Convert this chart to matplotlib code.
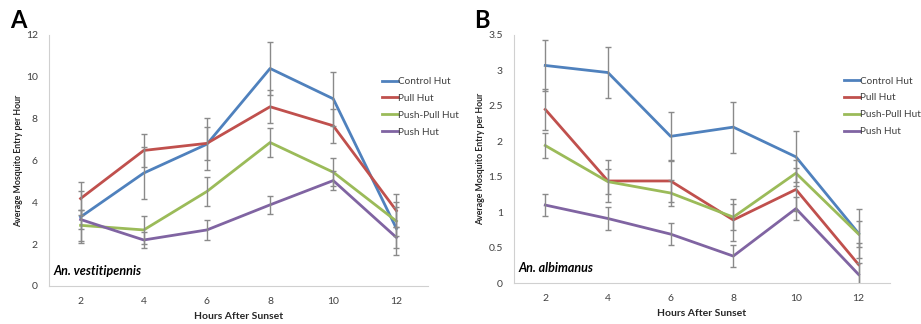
import matplotlib.pyplot as plt
import numpy as np

plt.rcParams['font.family'] = ['Lato', 'DejaVu Sans']

hours = [2, 4, 6, 8, 10, 12]
series = ["Control Hut", "Pull Hut", "Push-Pull Hut", "Push Hut"]
colors = ["#4F81BD", "#C0504D", "#9BBB59", "#8064A2"]

# panel A - An. vestitipennis
a_control = [3.3, 5.4, 6.78, 10.4, 8.95, 2.75]
a_pull = [4.18, 6.48, 6.82, 8.57, 7.66, 3.6]
a_pushpull = [2.9, 2.68, 4.52, 6.86, 5.44, 3.1]
a_push = [3.18, 2.2, 2.68, 3.88, 5.04, 2.32]
a_control_err = [1.25, 1.25, 1.25, 1.25, 1.28, 1.25]
a_pull_err = [0.8, 0.8, 0.8, 0.8, 0.8, 0.8]
a_pushpull_err = [0.75, 0.66, 0.68, 0.69, 0.66, 0.7]
a_push_err = [0.45, 0.36, 0.46, 0.44, 0.45, 0.5]

# panel B - An. albimanus
b_control = [3.07, 2.97, 2.07, 2.2, 1.78, 0.7]
b_pull = [2.45, 1.44, 1.44, 0.89, 1.32, 0.26]
b_pushpull = [1.94, 1.43, 1.27, 0.93, 1.55, 0.69]
b_push = [1.1, 0.91, 0.69, 0.38, 1.05, 0.12]
b_control_err = [0.36, 0.36, 0.35, 0.36, 0.36, 0.35]
b_pull_err = [0.29, 0.3, 0.29, 0.3, 0.3, 0.3]
b_pushpull_err = [0.18, 0.18, 0.18, 0.18, 0.18, 0.18]
b_push_err = [0.16, 0.16, 0.16, 0.16, 0.16, 0.16]

fig = plt.figure(figsize=(9.21, 3.24), dpi=100)
axA = fig.add_axes([0.0532, 0.1173, 0.4115, 0.7747])
axB = fig.add_axes([0.558, 0.1265, 0.4083, 0.7655])


def draw(ax, vals, errs, ymax, ystep, species):
    for v, e, c, name in zip(vals, errs, colors, series):
        ax.plot(hours, v, color=c, lw=2, label=name, zorder=2)
        ax.errorbar(hours, v, yerr=e, fmt='none', ecolor='#8a8a8a',
                    elinewidth=1, capsize=2, capthick=1, zorder=3)
    ax.set_xlim(1, 13)
    ax.set_ylim(0, ymax)
    ax.set_xticks(hours)
    ax.set_yticks(np.arange(0, ymax + ystep / 2, ystep))
    ax.yaxis.set_major_formatter(plt.FuncFormatter(lambda y, p: f"{y:g}"))
    ax.tick_params(length=0, labelsize=7.5, colors='#404040', pad=8)
    for s in ['top', 'right']:
        ax.spines[s].set_visible(False)
    for s in ['left', 'bottom']:
        ax.spines[s].set_color('#d0d0d0')
    ax.set_xlabel("Hours After Sunset", fontsize=7.5, fontweight='bold', color='#262626', labelpad=4)
    ax.set_ylabel("Average Mosquito Entry per Hour", fontsize=6.3, fontweight='bold', color='#262626', labelpad=2)
    ax.text(0.012, 0.045, species, transform=ax.transAxes, fontsize=9,
            fontweight='bold', fontstyle='italic', color='black')
    ax.legend(loc='upper left', bbox_to_anchor=(0.878, 0.832), frameon=False,
              fontsize=7.2, handlelength=1.6, handletextpad=0.0,
              labelspacing=0.78, borderaxespad=0, borderpad=0,
              labelcolor='#404040')


draw(axA, [a_control, a_pull, a_pushpull, a_push],
     [a_control_err, a_pull_err, a_pushpull_err, a_push_err], 12, 2, "An. vestitipennis")
draw(axB, [b_control, b_pull, b_pushpull, b_push],
     [b_control_err, b_pull_err, b_pushpull_err, b_push_err], 3.5, 0.5, "An. albimanus")

fig.text(0.011, 0.915, "A", fontsize=17, fontweight='bold')
fig.text(0.515, 0.915, "B", fontsize=17, fontweight='bold')

fig.savefig("out.png", dpi=100)
